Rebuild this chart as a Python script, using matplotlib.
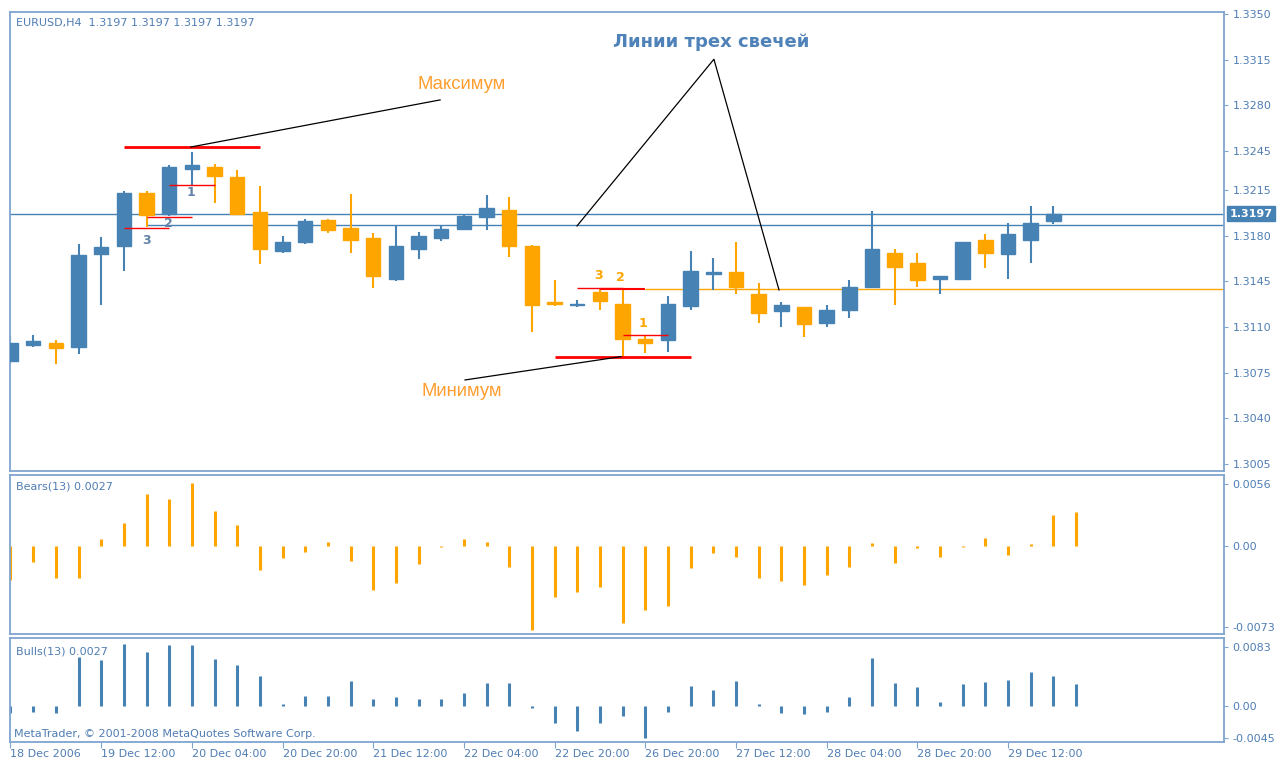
import numpy as np
import matplotlib.pyplot as plt
from matplotlib.transforms import blended_transform_factory

# EURUSD H4 candles
opens = [1.3084, 1.3096, 1.3098, 1.3095, 1.3166, 1.3172, 1.3213, 1.3197, 1.3231, 1.3233,
         1.3225, 1.3198, 1.3168, 1.3175, 1.3192, 1.3186, 1.3178, 1.3147, 1.3170, 1.3178,
         1.3185, 1.3194, 1.3200, 1.3172, 1.3129, 1.3127, 1.3137, 1.3128, 1.3101, 1.3100,
         1.3126, 1.3151, 1.3152, 1.3135, 1.3122, 1.3125, 1.3113, 1.3123, 1.3141, 1.3167,
         1.3159, 1.3147, 1.3147, 1.3177, 1.3166, 1.3177, 1.3191]
highs = [1.3103, 1.3104, 1.3100, 1.3174, 1.3179, 1.3214, 1.3214, 1.3234, 1.3244, 1.3235,
         1.3230, 1.3218, 1.3180, 1.3193, 1.3193, 1.3212, 1.3182, 1.3188, 1.3183, 1.3188,
         1.3197, 1.3211, 1.3210, 1.3173, 1.3146, 1.3131, 1.3140, 1.3139, 1.3103, 1.3134,
         1.3168, 1.3163, 1.3175, 1.3144, 1.3129, 1.3125, 1.3127, 1.3146, 1.3199, 1.3170,
         1.3167, 1.3149, 1.3175, 1.3181, 1.3190, 1.3203, 1.3203]
lows = [1.3082, 1.3095, 1.3082, 1.3089, 1.3127, 1.3153, 1.3187, 1.3195, 1.3219, 1.3205,
        1.3196, 1.3158, 1.3167, 1.3174, 1.3182, 1.3167, 1.3140, 1.3145, 1.3162, 1.3176,
        1.3184, 1.3184, 1.3164, 1.3106, 1.3126, 1.3125, 1.3123, 1.3087, 1.3090, 1.3091,
        1.3123, 1.3138, 1.3135, 1.3113, 1.3110, 1.3102, 1.3110, 1.3117, 1.3140, 1.3127,
        1.3141, 1.3135, 1.3147, 1.3155, 1.3147, 1.3159, 1.3189]
closes = [1.3098, 1.3099, 1.3094, 1.3165, 1.3171, 1.3213, 1.3196, 1.3233, 1.3234, 1.3226,
          1.3197, 1.3170, 1.3175, 1.3191, 1.3184, 1.3177, 1.3149, 1.3172, 1.3180, 1.3185,
          1.3195, 1.3201, 1.3172, 1.3127, 1.3128, 1.3128, 1.3130, 1.3101, 1.3098, 1.3128,
          1.3153, 1.3152, 1.3141, 1.3121, 1.3127, 1.3112, 1.3123, 1.3141, 1.3170, 1.3156,
          1.3146, 1.3149, 1.3175, 1.3167, 1.3181, 1.3190, 1.3197]

bears = [-0.0030, -0.0014, -0.0029, -0.0029, 0.0006, 0.0021, 0.0047, 0.0042, 0.0057, 0.0032,
         0.0019, -0.0021, -0.0011, -0.0005, 0.0004, -0.0013, -0.0039, -0.0033, -0.0016, -0.0001,
         0.0006, 0.0004, -0.0019, -0.0075, -0.0046, -0.0041, -0.0037, -0.0069, -0.0057, -0.0054,
         -0.0020, -0.0006, -0.0010, -0.0029, -0.0031, -0.0035, -0.0026, -0.0019, 0.0003, -0.0015,
         -0.0002, -0.0010, -0.0001, 0.0007, -0.0008, 0.0002, 0.0028, 0.0031]
bulls = [-0.0011, -0.0009, -0.0011, 0.0069, 0.0065, 0.0087, 0.0076, 0.0086, 0.0086, 0.0066,
         0.0058, 0.0042, 0.0002, 0.0014, 0.0014, 0.0035, 0.0009, 0.0012, 0.0009, 0.0010,
         0.0018, 0.0032, 0.0032, -0.0003, -0.0025, -0.0036, -0.0024, -0.0014, -0.0046, -0.0009,
         0.0028, 0.0022, 0.0035, 0.0003, -0.0011, -0.0012, -0.0009, 0.0012, 0.0067, 0.0032,
         0.0026, 0.0005, 0.0030, 0.0034, 0.0037, 0.0048, 0.0042, 0.0030]

date_labels = ['18 Dec 2006', '19 Dec 12:00', '20 Dec 04:00', '20 Dec 20:00', '21 Dec 12:00',
               '22 Dec 04:00', '22 Dec 20:00', '26 Dec 20:00', '27 Dec 12:00', '28 Dec 04:00',
               '28 Dec 20:00', '29 Dec 12:00']
price_ticks = [1.3350, 1.3315, 1.3280, 1.3245, 1.3215, 1.3180, 1.3145, 1.3110, 1.3075, 1.3040, 1.3005]

blue = '#4682b4'
orange = '#ffa500'
frame = '#7fa5cf'
txt = '#4f7db3'

W, H = 1287, 762
fig = plt.figure(figsize=(W / 100, H / 100), dpi=100)


def px_axes(x0, y0, x1, y1):
    return fig.add_axes([x0 / W, 1 - y1 / H, (x1 - x0) / W, (y1 - y0) / H])


ax = px_axes(9.5, 12, 1224, 471)
axb = px_axes(9.5, 475, 1224, 634)
axu = px_axes(9.5, 638, 1224, 742)

for a in (ax, axb, axu):
    a.set_xlim(-0.044, 53.53)
    for s in a.spines.values():
        s.set_color(frame)
        s.set_linewidth(1.3)
    a.yaxis.tick_right()
    a.tick_params(axis='y', colors=frame, labelcolor=txt, labelsize=8, length=3, pad=3)
    a.tick_params(axis='x', bottom=False, labelbottom=False)

# candles
x = np.arange(len(opens))
o = np.array(opens); c = np.array(closes)
cols = [blue if cc >= oo else orange for oo, cc in zip(o, c)]
ax.vlines(x, lows, highs, colors=cols, lw=1.5, zorder=2)
ax.bar(x, np.abs(c - o), bottom=np.minimum(o, c), width=0.64, color=cols,
       edgecolor=cols, linewidth=1, zorder=3)
ax.set_ylim(1.29996, 1.33515)
ax.set_yticks(price_ticks)
ax.set_yticklabels(['%.4f' % p for p in price_ticks])

# horizontal lines
ax.axhline(1.3197, color=blue, lw=1, zorder=1)
ax.hlines(1.3188, 6, 53.6, color=blue, lw=1, zorder=1)
ax.hlines(1.3139, 28, 53.6, color=orange, lw=1, zorder=1)

# three candle lines, maximum
ax.hlines(1.3248, 5, 11, color='red', lw=2, zorder=4)
ax.hlines(1.3219, 7, 9, color='red', lw=1, zorder=4)
ax.hlines(1.3194, 6, 8, color='red', lw=1, zorder=4)
ax.hlines(1.3186, 5, 7, color='red', lw=1, zorder=4)
lab = dict(fontsize=9, fontweight='bold', ha='center', va='center', zorder=5)
ax.text(7.96, 1.32133, '1', color='#6383a8', **lab)
ax.text(6.96, 1.31890, '2', color='#6383a8', **lab)
ax.text(5.98, 1.31762, '3', color='#6383a8', **lab)

# three candle lines, minimum
ax.hlines(1.3087, 24, 30, color='red', lw=2, zorder=4)
ax.hlines(1.3104, 27, 29, color='red', lw=1, zorder=4)
ax.hlines(1.31395, 26, 28, color='red', lw=1.5, zorder=4)
ax.hlines(1.3140, 25, 27, color='red', lw=1, zorder=4)
ax.text(25.93, 1.31494, '3', color=orange, **lab)
ax.text(26.90, 1.31478, '2', color=orange, **lab)
ax.text(27.89, 1.31129, '1', color=orange, **lab)

# annotations
ax.plot([7.96, 18.95], [1.3248, 1.32841], color='black', lw=0.9, zorder=5)
ax.plot([26.93, 20.05], [1.30873, 1.30694], color='black', lw=0.9, zorder=5)
ax.plot([24.99, 31.03, 33.9], [1.31875, 1.33153, 1.31384], color='black', lw=0.9, zorder=5)
ax.text(19.92, 1.32956, 'Максимум', color='#ff9d2e', fontsize=13.3,
        family=['Liberation Sans', 'DejaVu Sans'], ha='center', va='center')
ax.text(19.92, 1.30602, 'Минимум', color='#ff9d2e', fontsize=13.3,
        family=['Liberation Sans', 'DejaVu Sans'], ha='center', va='center')
ax.text(30.9, 1.33285, 'Линии трех свечей', color='#4f82b8', fontsize=13, fontweight='bold',
        family=['DejaVu Sans'], ha='center', va='center')

ax.text(0.005, 0.977, 'EURUSD,H4  1.3197 1.3197 1.3197 1.3197', transform=ax.transAxes,
        color=txt, fontsize=8, ha='left', va='center')
tr = blended_transform_factory(ax.transAxes, ax.transData)
ax.text(1.0045, 1.3197, '1.3197', transform=tr, color='white', fontsize=8, fontweight='bold',
        ha='left', va='center', clip_on=False,
        bbox=dict(boxstyle='square,pad=0.25', fc=blue, ec=blue))

# Bears power
xb = np.arange(len(bears))
axb.vlines(xb, 0, bears, colors=orange, lw=2.2)
axb.set_ylim(-0.0079, 0.0064)
axb.set_yticks([0.0056, 0.0, -0.0073])
axb.set_yticklabels(['0.0056', '0.00', '-0.0073'])
axb.text(0.005, 0.93, 'Bears(13) 0.0027', transform=axb.transAxes, color=txt, fontsize=8,
         ha='left', va='center')

# Bulls power
axu.vlines(xb, 0, bulls, colors=blue, lw=2.2)
axu.set_ylim(-0.00513, 0.00957)
axu.set_yticks([0.0083, 0.0, -0.0045])
axu.set_yticklabels(['0.0083', '0.00', '-0.0045'])
axu.text(0.005, 0.87, 'Bulls(13) 0.0027', transform=axu.transAxes, color=txt, fontsize=8,
         ha='left', va='center')
axu.text(0.004, 0.08, 'MetaTrader, © 2001-2008 MetaQuotes Software Corp.', transform=axu.transAxes,
         color=txt, fontsize=8, ha='left', va='center')
axu.set_xticks(np.arange(0, 48, 4))
axu.set_xticklabels(date_labels)
axu.tick_params(axis='x', bottom=True, labelbottom=True, colors=frame, labelcolor=txt,
                labelsize=8, length=4, pad=1)
for t in axu.get_xticklabels():
    t.set_ha('left')

fig.savefig('out.png', dpi=100)
